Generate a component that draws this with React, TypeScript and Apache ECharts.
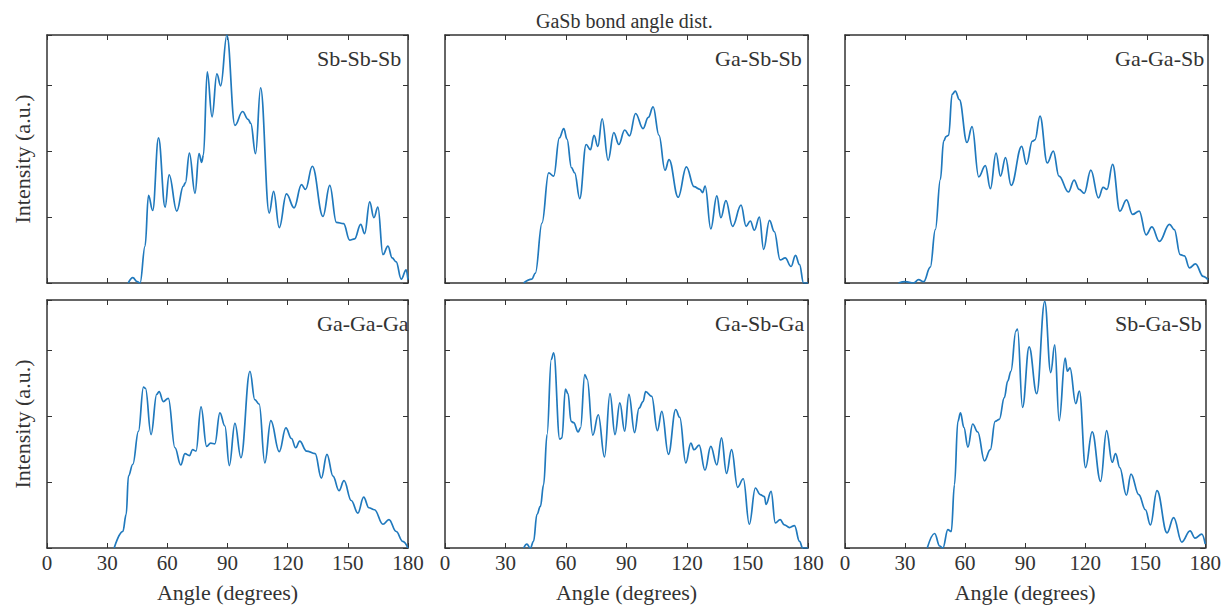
import React, { useEffect, useRef } from "react";
import * as echarts from "echarts";

// Bond angle distributions for GaSb, [angle (deg), intensity (a.u.)]
const sbSbSb: [number, number][] = [
  [40.5, 0], [42.8, 0.08], [45, 0.02], [46.4, 0], [48.9, 0.56], [50.6, 1.33], [52.7, 1.1], [55.6, 2.2],
  [58.9, 1.15], [60.9, 1.64], [64.7, 1.09], [68, 1.47], [69, 1.52], [71, 1.97], [73.8, 1.36], [75.8, 1.96],
  [77.1, 1.83], [78, 1.94], [79.9, 3.2], [82.3, 2.52], [84.7, 3.17], [86.6, 2.99], [89.7, 3.76], [93.7, 2.39],
  [97.5, 2.6], [100.3, 2.48], [101.6, 2.42], [104, 1.96], [106.5, 2.96], [110.8, 1.06], [113, 1.39], [115.8, 0.84],
  [119.4, 1.35], [123.2, 1.14], [126.9, 1.49], [128.9, 1.42], [132.3, 1.77], [137.6, 1.01], [141, 1.48], [144.3, 0.92],
  [147.9, 0.9], [150.9, 0.65], [153.4, 0.67], [156.4, 0.89], [158.4, 0.75], [160.9, 1.23], [163, 0.99], [165, 1.15],
  [167.5, 0.43], [170, 0.56], [172.1, 0.38], [174.1, 0.32], [176.6, 0.06], [179.1, 0.2], [180, 0.05],
];

const gaSbSb: [number, number][] = [
  [39, 0], [43.1, 0.06], [44.8, 0.15], [48.1, 0.91], [51.4, 1.67], [53.9, 1.62], [56.7, 2.2], [58.9, 2.34],
  [60.5, 2.18], [62.7, 1.75], [64.3, 1.67], [66.8, 1.28], [70, 2.1], [72.1, 2.02], [73.9, 2.24], [75.8, 2.07],
  [77.9, 2.49], [80.9, 1.86], [83.7, 2.28], [86.2, 2.1], [89.1, 2.32], [91.5, 2.23], [94.5, 2.57], [98.2, 2.34],
  [100.8, 2.51], [103.2, 2.67], [106.1, 2.24], [109.1, 1.71], [111.1, 1.87], [115.6, 1.3], [119.7, 1.76],
  [123.5, 1.46], [126.4, 1.42], [127.7, 1.37], [129, 1.47], [131.8, 0.82], [134.8, 1.32], [136.8, 0.99],
  [139.3, 1.25], [142.6, 0.86], [146.8, 1.18], [149.3, 0.86], [151.4, 0.94], [153.4, 0.8], [155.9, 1.0],
  [158, 0.51], [160.9, 0.95], [163.3, 0.78], [166.2, 0.35], [168.7, 0.38], [171.6, 0.25], [173.8, 0.42],
  [175.8, 0.28], [177.8, 0], [180, 0],
];

const gaGaSb: [number, number][] = [
  [26.5, 0], [29.9, 0.02], [34, 0], [36.5, 0.05], [39, 0.02], [42.3, 0.24], [44.8, 0.81], [47.3, 1.57],
  [48.9, 2.15], [50.1, 2.22], [51.4, 2.24], [53.1, 2.86], [54.7, 2.91], [56.7, 2.78], [60.5, 2.13], [63, 2.37],
  [66.3, 1.61], [69.6, 1.78], [72.1, 1.43], [74.9, 1.97], [77.1, 1.62], [79.6, 1.9], [82.4, 1.48], [87.6, 2.07],
  [90, 1.8], [92.9, 2.15], [94.2, 2.17], [96.7, 2.53], [100.3, 1.82], [103.3, 2.0], [106.1, 1.62], [110.8, 1.38],
  [113.6, 1.56], [116.1, 1.42], [118.6, 1.36], [121.9, 1.71], [125.7, 1.29], [128, 1.45], [129.9, 1.42],
  [132.7, 1.8], [136.3, 1.09], [139.6, 1.26], [142.6, 1.04], [145.9, 1.09], [149.3, 0.73], [152.2, 0.85],
  [155.9, 0.63], [160.9, 0.89], [163.3, 0.81], [166.2, 0.43], [168.3, 0.41], [170.8, 0.23], [173.8, 0.29],
  [177.6, 0.1], [180, 0.05],
];

const gaGaGa: [number, number][] = [
  [33.5, 0], [37.8, 0.25], [39.5, 0.51], [40.6, 1.09], [42.8, 1.27], [45.6, 1.77], [48.1, 2.44], [49.1, 2.42],
  [51.9, 1.72], [54.7, 2.33], [55.9, 2.37], [58, 2.22], [60.5, 2.27], [63.8, 1.52], [66.7, 1.26], [68.8, 1.43],
  [71, 1.4], [72.6, 1.49], [74.3, 1.47], [76.8, 2.14], [79.6, 1.54], [81.6, 1.59], [83.7, 1.58], [86.2, 2.05],
  [88.7, 1.85], [90.9, 1.25], [93.7, 1.89], [96.7, 1.37], [101.2, 2.68], [103.6, 2.25], [105.8, 2.18],
  [108.6, 1.29], [111.6, 1.93], [115.8, 1.46], [119.1, 1.82], [121.9, 1.66], [124, 1.52], [126, 1.62],
  [129.4, 1.47], [133.7, 1.43], [136.8, 1.06], [139.6, 1.42], [142.6, 1.09], [145.6, 0.87], [148.1, 1.02],
  [151.7, 0.72], [155, 0.53], [157.9, 0.77], [160.5, 0.61], [163.3, 0.58], [167.5, 0.36], [170.5, 0.43],
  [174.1, 0.25], [177.4, 0.1], [180, 0],
];

const gaSbGa: [number, number][] = [
  [39, 0], [40.6, 0.06], [42.3, 0], [43.9, 0.1], [45.6, 0.51], [47.3, 0.63], [48.9, 0.96], [50.6, 1.72],
  [52.7, 2.86], [53.9, 2.96], [56.9, 1.65], [58, 1.67], [59.7, 2.41], [61, 2.34], [62.5, 1.92], [63.8, 1.9],
  [66, 1.76], [67.2, 1.82], [69.3, 2.63], [70.5, 2.56], [73.3, 1.71], [76, 2.02], [79.1, 1.38], [81.8, 2.34],
  [84.3, 1.72], [86.7, 2.2], [89.1, 1.77], [91.2, 2.33], [94, 1.75], [96.2, 2.12], [98.2, 2.22], [99.5, 2.37],
  [102.5, 2.3], [105.3, 1.78], [107.5, 2.07], [110.8, 1.42], [114.4, 2.1], [116.4, 1.98], [119.4, 1.29],
  [121.9, 1.59], [123.5, 1.49], [126, 1.56], [128.9, 1.18], [131.8, 1.54], [134.8, 1.26], [137.1, 1.67],
  [139.6, 1.13], [142.1, 1.49], [145.1, 0.92], [147.9, 1.05], [150.9, 0.36], [153.9, 0.91], [156.3, 0.81],
  [158.4, 0.78], [159.2, 0.66], [161.7, 0.86], [163.8, 0.38], [166.2, 0.43], [168.3, 0.35], [170.8, 0.31],
  [173.3, 0.34], [175.8, 0.1], [177.4, 0], [180, 0],
];

const sbGaSb: [number, number][] = [
  [41.1, 0], [44.8, 0.22], [47.3, 0.03], [48.9, 0], [51.4, 0.28], [53.1, 0.25], [54.7, 0.96], [56.4, 1.92],
  [57.7, 2.05], [59.4, 1.83], [61.4, 1.53], [63.8, 1.88], [66.3, 1.76], [69.7, 1.32], [72.6, 1.49], [75, 1.92],
  [77.1, 1.95], [79.6, 2.28], [81.3, 2.53], [82.9, 2.68], [85.4, 3.29], [86.2, 3.32], [88.7, 2.13], [92, 3.05],
  [95.8, 2.34], [99.8, 3.74], [102.8, 2.66], [104.8, 3.08], [107, 1.93], [110, 2.88], [111.1, 2.68],
  [112.4, 2.73], [115.3, 2.19], [117.1, 2.38], [120.2, 1.22], [123.5, 1.76], [127.7, 1.01], [130.7, 1.78],
  [133.5, 1.3], [135.2, 1.43], [137.3, 1.22], [140.6, 0.8], [142.9, 1.12], [146.8, 0.81], [150.1, 0.58],
  [152.6, 0.35], [155.9, 0.87], [160.9, 0.23], [164.2, 0.46], [168.3, 0.09], [172.4, 0.26], [174.9, 0.15],
  [178.3, 0.21], [180, 0.06],
];

const panelNames = ["Sb-Sb-Sb", "Ga-Sb-Sb", "Ga-Ga-Sb", "Ga-Ga-Ga", "Ga-Sb-Ga", "Sb-Ga-Sb"];
const panelData = [sbSbSb, gaSbSb, gaGaSb, gaGaGa, gaSbGa, sbGaSb];

const xTickStep = 30;
const angleMax = 180;
const intensityMax = 3.76;

const FONT = '"Liberation Serif", "DejaVu Serif", "Times New Roman", serif';
const INK = "#333333";
const LINE = "#2079bd";

const colLeft = [47, 445, 845];
const colWidth = [361, 363, 363];
const rowTop = [35, 300];
const rowHeight = 248;

function buildOption() {
  const grid: any[] = [];
  const xAxis: any[] = [];
  const yAxis: any[] = [];
  const series: any[] = [];
  const graphic: any[] = [];

  const frame = { show: true, onZero: false, lineStyle: { color: INK, width: 1.5 } };
  const tick = { show: true, inside: true, length: 5, lineStyle: { color: INK, width: 1 } };

  panelNames.forEach((name, i) => {
    const row = Math.floor(i / 3);
    const col = i % 3;
    grid.push({
      left: colLeft[col],
      top: rowTop[row],
      width: colWidth[col],
      height: rowHeight,
      containLabel: false,
    });

    const baseX = {
      gridIndex: i,
      type: "value",
      min: 0,
      max: angleMax,
      interval: xTickStep,
      axisLine: frame,
      axisTick: tick,
      splitLine: { show: false },
    };
    xAxis.push({
      ...baseX,
      position: "bottom",
      axisLabel: {
        show: row === 1,
        fontFamily: FONT,
        fontSize: 21,
        color: INK,
        margin: 4,
      },
      name: row === 1 ? "Angle (degrees)" : "",
      nameLocation: "middle",
      nameGap: 33,
      nameTextStyle: { fontFamily: FONT, fontSize: 22, color: INK },
    });
    xAxis.push({ ...baseX, position: "top", axisLabel: { show: false } });

    const baseY = {
      gridIndex: i,
      type: "value",
      min: 0,
      max: intensityMax,
      interval: 1,
      axisLine: frame,
      axisTick: tick,
      axisLabel: { show: false },
      splitLine: { show: false },
    };
    yAxis.push({
      ...baseY,
      position: "left",
      name: col === 0 ? "Intensity (a.u.)" : "",
      nameLocation: "middle",
      nameGap: 14,
      nameRotate: 90,
      nameTextStyle: { fontFamily: FONT, fontSize: 22, color: INK },
    });
    yAxis.push({ ...baseY, position: "right" });

    series.push({
      type: "line",
      name,
      xAxisIndex: 2 * i,
      yAxisIndex: 2 * i,
      data: panelData[i],
      showSymbol: false,
      smooth: 0.4,
      smoothMonotone: "x",
      clip: true,
      lineStyle: { color: LINE, width: 1.7 },
      z: 3,
    });

    graphic.push({
      type: "text",
      left: colLeft[col] + 270,
      top: rowTop[row] + 12,
      style: { text: name, fontFamily: FONT, fontSize: 22, fill: INK },
      z: 10,
    });
  });

  graphic.push({
    type: "text",
    left: 536,
    top: 11,
    style: { text: "GaSb bond angle dist.", fontFamily: FONT, fontSize: 20, fill: INK },
  });

  return {
    animation: false,
    backgroundColor: "#ffffff",
    grid,
    xAxis,
    yAxis,
    series,
    graphic,
  };
}

export default function App() {
  const ref = useRef<HTMLDivElement>(null);

  useEffect(() => {
    document.body.style.margin = "0";
    if (!ref.current) return;
    const chart = echarts.init(ref.current, undefined, { renderer: "svg" });
    chart.setOption(buildOption() as any);
    return () => chart.dispose();
  }, []);

  return <div ref={ref} style={{ width: 1224, height: 608 }} />;
}
